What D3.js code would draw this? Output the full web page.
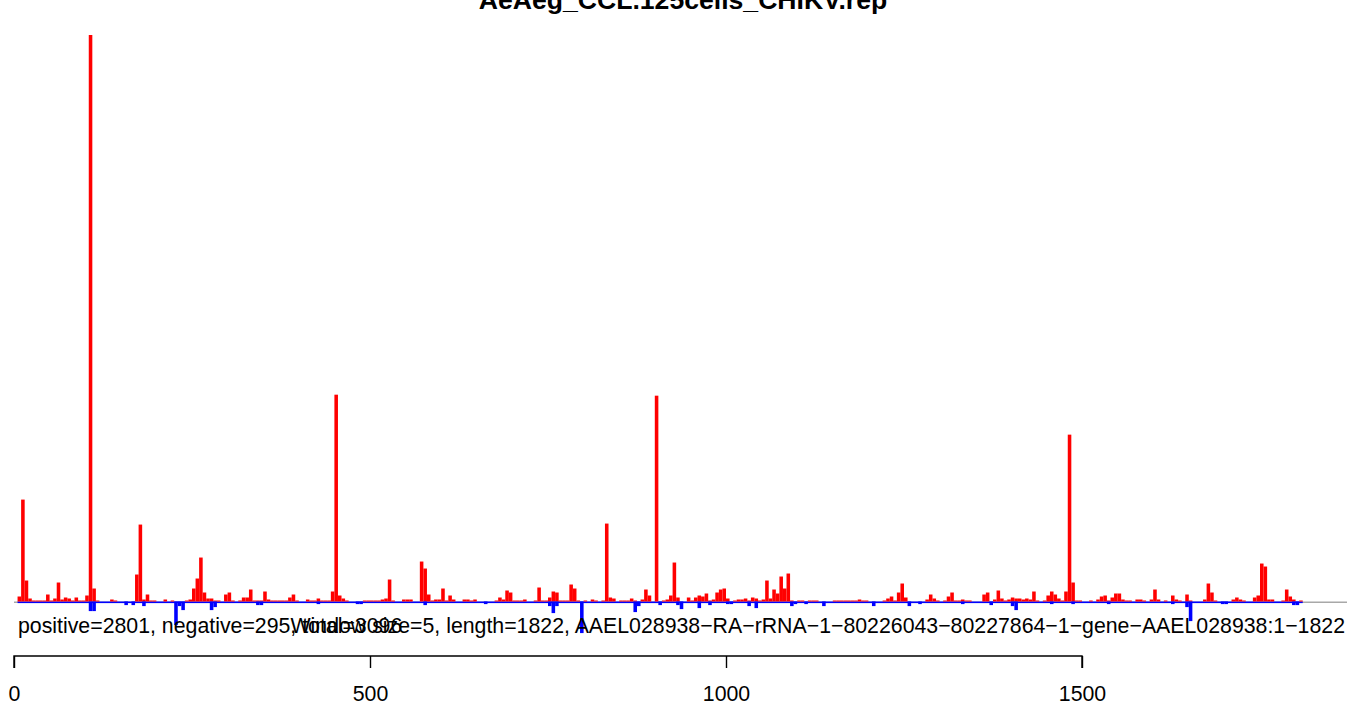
<!DOCTYPE html>
<html><head><meta charset="utf-8">
<script src="https://cdn.jsdelivr.net/npm/d3@7"></script>
<style>html,body{margin:0;padding:0;background:#fff;overflow:hidden}</style>
</head><body>
<svg id="chart" width="1367" height="707"></svg>
<script>
const titleText = "AeAeg_CCL.125cells_CHIKV.rep";
const leftNote = "positive=2801, negative=295, total=3096";
const rightNote = "Window size=5, length=1822, AAEL028938\u2212RA\u2212rRNA\u22121\u221280226043\u221280227864\u22121\u2212gene\u2212AAEL028938:1\u22121822";
const windowSize = 5;
const seqLength = 1822;
const xTicks = [0, 500, 1000, 1500];
// positive counts per window, windows starting at 5, 10, 15, ...
const posCounts = [
 5,102,21,3,1,1,1,1,7,1,3,19,2,4,3,1,4,1,1,6,
 567,13,1,0,0,0,2,1,0,0,0,0,0,27,77,2,7,1,1,0,
 0,2,0,1,0,0,0,1,2,13,23,44,9,3,3,1,1,0,7,9,
 1,0,1,4,4,12,1,1,1,10,2,1,1,1,1,1,4,7,1,0,
 0,2,1,1,3,1,1,1,10,207,6,3,1,0,0,0,0,1,1,1,
 1,1,2,3,22,1,0,0,2,2,2,0,0,40,33,7,1,2,2,13,
 1,6,2,0,0,2,2,1,2,0,0,0,0,0,1,4,2,11,9,1,
 1,1,2,0,0,1,14,1,1,4,10,9,1,1,1,17,13,1,0,1,
 0,2,1,0,1,78,4,3,0,1,1,1,3,1,0,2,12,6,0,206,
 0,1,2,6,39,4,0,0,4,1,4,6,5,8,1,2,9,12,13,3,
 0,1,2,2,3,1,4,3,1,2,21,3,12,8,25,13,28,1,0,1,
 1,0,1,1,1,0,0,0,0,1,1,1,1,1,1,1,2,1,1,0,
 0,0,0,1,3,5,1,9,18,4,0,0,0,0,0,2,7,3,1,0,
 1,5,9,1,1,2,1,1,0,0,0,7,9,0,2,11,3,1,2,4,
 3,3,2,3,2,10,1,0,1,6,10,7,3,1,10,167,19,1,1,0,
 0,1,0,2,5,6,1,4,8,8,2,1,1,0,2,2,1,0,2,12,
 2,0,1,0,6,2,1,0,7,1,0,0,0,2,18,9,1,0,0,0,
 0,2,4,2,1,0,0,4,6,38,35,2,2,0,0,1,12,5,2,0,
 1,0,0,0
];
// negative counts: window start positions and magnitudes
const negStarts = [105,110,155,165,180,225,230,235,275,280,340,345,425,480,485,575,660,750,755,760,795,870,875,905,930,935,960,975,1000,1005,1030,1040,1090,1095,1110,1135,1205,1255,1270,1330,1370,1400,1405,1455,1485,1535,1625,1645,1650,1695,1700,1795,1800];
const negCounts = [8,8,2,2,3,22,3,7,7,4,2,2,1,1,1,2,1,3,10,3,30,9,3,2,2,6,5,2,1,1,3,5,3,1,1,3,3,3,1,1,2,3,7,1,1,1,1,4,18,1,1,2,2];

const svg = d3.select("#chart");
const x = d3.scaleLinear().domain([0, 1500]).range([14, 1082]);
const y = d3.scaleLinear().domain([0, 567]).range([601.5, 35]);
const font = "Liberation Sans, Arial, Helvetica, sans-serif";

const posData = posCounts.map((v, i) => ({start: (i + 1) * windowSize, v}));
const negData = negStarts.map((s, i) => ({start: s, v: negCounts[i]}));

// gray zero line across plot region
svg.append("line").attr("x1", 14).attr("x2", 1347)
  .attr("y1", y(0) + 0.8).attr("y2", y(0) + 0.8)
  .attr("stroke", "#a8a8a8").attr("stroke-width", 1.4);
// blue baseline over data range
svg.append("rect").attr("x", x(windowSize)).attr("width", x(1810) - x(windowSize))
  .attr("y", y(0)).attr("height", 1.6).attr("fill", "#0000ff");

// positive bars
svg.append("g").selectAll("rect").data(posData.filter(d => d.v > 0)).join("rect")
  .attr("x", d => x(d.start)).attr("width", d => x(d.start + windowSize) - x(d.start))
  .attr("y", d => y(d.v)).attr("height", d => y(0) - y(d.v))
  .attr("fill", "#ff0000");
// negative bars
svg.append("g").selectAll("rect").data(negData).join("rect")
  .attr("x", d => x(d.start)).attr("width", d => x(d.start + windowSize) - x(d.start))
  .attr("y", y(0)).attr("height", d => y(0) - y(d.v) + 1.6)
  .attr("fill", "#0000ff");

// title
svg.append("text").attr("x", 683).attr("y", 9).attr("text-anchor", "middle")
  .attr("font-family", font).attr("font-weight", "bold")
  .attr("font-size", 26.6).attr("fill", "#000").text(titleText);

// notes
svg.append("text").attr("x", 18).attr("y", 633)
  .attr("font-family", font).attr("font-size", 21.3)
  .attr("fill", "#000").text(leftNote);
svg.append("text").attr("x", 1345).attr("y", 633).attr("text-anchor", "end")
  .attr("font-family", font).attr("font-size", 21.3)
  .attr("fill", "#000").text(rightNote);

// x axis
const axis = d3.axisBottom(x).tickValues(xTicks).tickFormat(d3.format("d")).tickSize(12).tickPadding(18);
const ag = svg.append("g").attr("transform", "translate(0,656)").call(axis);
ag.select(".domain").attr("d", `M${x(0)},12V0H${x(1500)}V12`).attr("stroke", "#000").attr("stroke-width", 1.4);
ag.selectAll(".tick line").attr("stroke", "#000").attr("stroke-width", 1.4);
ag.selectAll(".tick text").attr("font-family", font)
  .attr("font-size", 21.3).attr("fill", "#000");
</script>
</body></html>
